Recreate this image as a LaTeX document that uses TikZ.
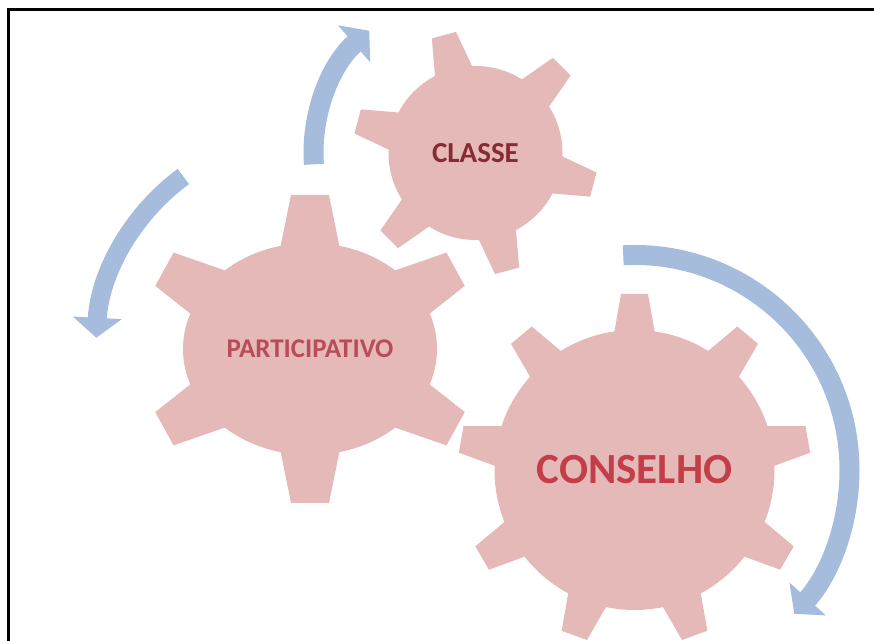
\documentclass[tikz,border=0pt]{standalone}
\usepackage{fontspec}
\setmainfont{Carlito}
\usetikzlibrary{arrows.meta}
\definecolor{gearpink}{RGB}{230,185,185}
\definecolor{arrowblue}{RGB}{165,188,220}
\definecolor{txtdark}{RGB}{135,42,52}
\definecolor{txtmid}{RGB}{185,75,90}
\definecolor{txtred}{RGB}{195,62,72}
\newcommand\gearparts[8]{%
  \begin{scope}[shift={#2}]
    \path[#1] (0,0) ellipse [x radius=#3, y radius=#4];
    \foreach \a/\r in {#5}{\path[#1,rotate=\a] (#7,-#8) -- (\r,-#6) -- (\r,#6) -- (#7,#8) -- cycle;}
  \end{scope}}
\newcommand\drawgear[7]{%
  \gearparts{gearsep}{#1}{#2}{#3}{#4}{#5}{#6}{#7}%
  \gearparts{gearfill}{#1}{#2}{#3}{#4}{#5}{#6}{#7}}
\begin{document}
\begin{tikzpicture}[x=0.5pt,y=0.5pt,
  gearfill/.style={fill=gearpink},
  gearsep/.style={draw=white,line width=1.5pt},
  circarrow/.style={draw=arrowblue,line width=10pt,-{Triangle[length=10pt,width=24pt]}},
  geartext/.style={font=\bfseries, inner sep=0pt}]
\useasboundingbox (0,0) rectangle (874,641);
\draw[line width=1.5pt] (8,0) -- (8,631) -- (874,631);
% centres
\coordinate (cPa) at (310,292);
\coordinate (cCl) at (475.5,488);
\coordinate (cCo) at (634.5,171);
% gears
\drawgear{(310,292)}{127}{106}{90/154,270/154,28.7/166,151.3/166,208.7/166,331.3/166}{19}{95}{31}
\drawgear{(475.5,488)}{87}{87}{45/122,105/122,165/122,225/122,285/122,345/122}{12.5}{72}{21.5}
\drawgear{(634.5,171)}{140}{140}{90/176,130/176,170/176,210/176,250/176,290/176,330/176,10/176,50/176}{13.5}{122}{23}
% labels
\node[geartext, text=txtmid, font=\bfseries\fontsize{13.5}{16}\selectfont] (participativo) at (cPa) {PARTICIPATIVO};
\node[geartext, text=txtdark, font=\bfseries\fontsize{14.5}{17}\selectfont] (classe) at (cCl) {CLASSE};
\node[geartext, text=txtred, font=\bfseries\fontsize{21.5}{25}\selectfont] (conselho) at (cCo) {CONSELHO};
% circular arrows
\draw[circarrow] ([shift={(184:162)}]cCl) arc[start angle=184, end angle=131, radius=162];
\draw[circarrow,line width=9.5pt] ([shift={(126.3:214)}]cPa) arc[start angle=126.3, end angle=177, radius=214];
\draw[circarrow] ([shift={(93:215)}]cCo) arc[start angle=93, end angle=-42, radius=215];
\end{tikzpicture}
\end{document}
